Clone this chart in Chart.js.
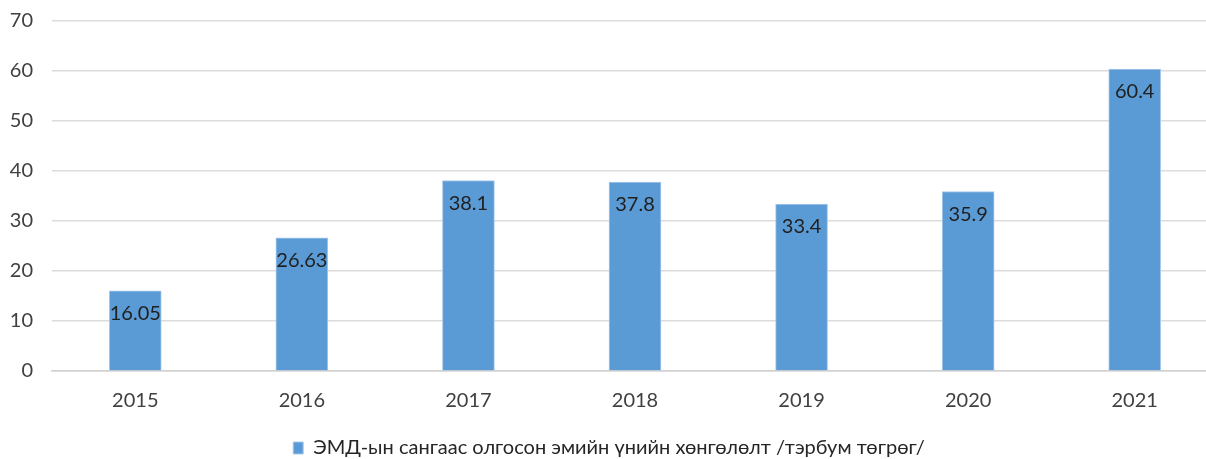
<!DOCTYPE html>
<html>
<head>
<meta charset="utf-8">
<script src="https://cdn.jsdelivr.net/npm/chart.js@4/dist/chart.umd.min.js"></script>
<style>
  html, body { margin: 0; padding: 0; background: #fff; overflow: hidden; }
  #wrap { width: 1218px; height: 459px; }
</style>
</head>
<body>
<div id="wrap"><canvas id="c"></canvas></div>
<script>
// data
var years = ["2015", "2016", "2017", "2018", "2019", "2020", "2021"];
var discount = [16.05, 26.63, 38.1, 37.8, 33.4, 35.9, 60.4];
var seriesName = "ЭМД-ын сангаас олгосон эмийн үнийн хөнгөлөлт /тэрбум төгрөг/";

var FONT = "Lato, 'Open Sans', sans-serif";

// draws the value inside each bar, a bit below its top
var valueLabels = {
    id: 'valueLabels',
    afterDatasetsDraw: function (chart) {
        var ctx = chart.ctx;
        var meta = chart.getDatasetMeta(0);
        ctx.save();
        ctx.font = "20px " + FONT;
        ctx.fillStyle = "#1f1f1f";
        ctx.textAlign = "center";
        ctx.textBaseline = "middle";
        meta.data.forEach(function (bar, i) {
            ctx.fillText(String(discount[i]), bar.x, bar.y + 23);
        });
        ctx.restore();
    }
};

new Chart(document.getElementById("c"), {
    type: 'bar',
    data: {
        labels: years,
        datasets: [{
            label: seriesName,
            data: discount,
            backgroundColor: '#5B9BD5',
            borderColor: '#A9C9EA',
            borderWidth: 1,
            barThickness: 52
        }]
    },
    options: {
        responsive: true,
        maintainAspectRatio: false,
        animation: false,
        layout: { padding: { top: 21, left: 0, right: 0, bottom: -9 } },
        scales: {
            x: {
                grid: { display: false, drawTicks: false },
                border: { color: '#d0d0d0', width: 1.5 },
                ticks: { color: '#404040', font: { family: FONT, size: 20 }, padding: 18 },
                afterFit: function (s) { s.height = 63; }
            },
            y: {
                min: 0,
                max: 70,
                ticks: { stepSize: 10, color: '#404040', font: { family: FONT, size: 20 }, padding: 19 },
                grid: { color: '#dcdcdc', lineWidth: 1.5, drawTicks: false },
                border: { display: false },
                afterFit: function (s) {
                    s.width = 52;
                    s.paddingTop = 0;
                    s.paddingBottom = 0;
                }
            }
        },
        plugins: {
            legend: {
                position: 'bottom',
                labels: {
                    color: '#262626',
                    font: { family: FONT, size: 20 },
                    boxWidth: 10,
                    boxHeight: 12,
                    padding: 4
                }
            },
            tooltip: { enabled: false }
        }
    },
    plugins: [valueLabels]
});
</script>
</body>
</html>
